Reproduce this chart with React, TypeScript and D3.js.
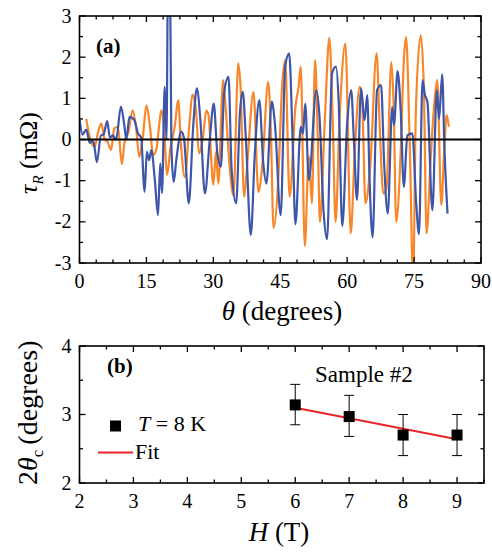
import React from 'react'
import * as d3 from 'd3'

// panel (a): [theta (deg), tau_R (mOhm)]
const blueSeries: [number, number][] = [
  [0, 0.5], [0.7, 0.12], [1.5, 0.24], [2.3, -0.08], [3.1, -0.04], [3.9, -0.55], [4.8, 0.1], [5.4, 0.12],
  [6.2, 0.45], [6.8, 0.05], [7.5, 0.1], [8.2, 0.0], [9.3, 0.8], [10.1, 0.3], [10.5, 0.0], [11.2, 0.55],
  [12.3, 0.47], [13.1, 0.15], [13.8, 0.05], [14.6, -1.27], [15.1, -0.3], [15.6, -0.5], [16.1, -0.26],
  [16.9, -1.0], [17.6, -1.84], [18.1, -0.58], [18.5, -1.3], [19.1, 1.28], [19.5, 0.0], [19.9, 5], [20.2, 5],
  [20.6, -0.18], [21.1, -1.03], [21.7, -0.5], [22.8, 0.19], [23.4, 0.05], [24.5, -1.55], [25.5, 0.35],
  [26.3, 1.24], [27.1, 0.47], [28.1, -1.31], [29.2, 0.0], [30.1, 0.87], [30.9, -0.34], [31.7, -0.66],
  [32.4, 1.12], [33.4, 1.52], [34.1, -0.74], [35.1, -1.55], [36.0, 0.71], [36.6, 1.16], [37.3, 0.0],
  [38.4, -2.32], [39.3, -0.34], [40.3, 0.96], [41.2, -0.58], [41.9, -1.07], [43.1, 0.92], [43.8, 0.39],
  [45.1, -1.84], [46.1, 1.77], [47.0, 2.09], [47.8, -0.1], [48.4, -2.06], [49.6, 0.31], [50.1, 0.15],
  [50.6, 0.87], [51.4, -0.99], [53.1, 1.2], [53.8, 0.55], [54.7, -1.72], [55.5, -2.42], [56.6, 1.6],
  [57.5, 1.77], [58.1, 0.9], [58.9, -2.1], [60.0, 0.39], [60.9, 1.2], [61.5, 0.0], [62.2, -1.47],
  [63.1, 1.24], [63.9, 0.47], [64.5, 1.08], [65.0, -0.9], [65.7, -2.38], [66.7, 1.2], [67.6, 1.32],
  [68.3, -0.6], [69.1, -1.8], [70.1, 0.79], [70.5, 0.35], [71.3, 1.66], [72.0, 0.7], [72.7, -1.15],
  [73.5, 0.1], [74.6, 0.15], [75.5, -1.6], [76.1, -2.3], [76.9, 1.44], [77.4, 1.1], [78.0, 0.9],
  [79.1, -1.72], [80.1, 1.2], [80.6, 0.5], [81.3, 1.58], [81.8, -0.2], [82.5, -1.8]
]

const orangeSeries: [number, number][] = [
  [1.5, 0.5], [2.4, 0.02], [3.4, -0.18], [4.1, 0.15], [4.9, 0.39], [5.6, 0.02], [6.3, -0.06], [7.1, -0.25],
  [7.8, 0.27], [8.6, 0.31], [9.5, -0.6], [10.1, -0.06], [11.0, 0.2], [11.9, 0.71], [12.7, 0.27],
  [13.4, -0.42], [14.2, 0.06], [15.0, 0.83], [15.8, 0.31], [16.5, -0.38], [17.2, -0.25], [18.4, 0.71],
  [19.0, 0.2], [19.6, -0.86], [20.4, -0.2], [21.4, 0.35], [22.1, 0.96], [22.8, -0.2], [23.6, -0.91],
  [24.7, 0.47], [25.3, 1.09], [26.1, 0.71], [26.8, -0.34], [27.7, 0.06], [28.4, 0.7], [28.9, 0.6],
  [30.0, -1.1], [30.6, -0.3], [31.1, -1.07], [32.2, 1.44], [32.8, 0.71], [33.6, -0.58], [34.5, -1.35],
  [35.6, 1.85], [36.1, 1.28], [36.9, -1.39], [37.6, -0.6], [39.0, 1.16], [40.1, -1.27], [41.0, -0.6],
  [42.3, 1.4], [42.9, 0.2], [43.5, -2.15], [44.5, -1.1], [45.4, 1.28], [46.1, 1.93], [47.1, -1.39],
  [48.4, 0.79], [49.1, 1.28], [49.6, 1.77], [50.5, -2.59], [51.4, -0.4], [52.1, -1.55], [52.8, 1.93],
  [53.4, 0.1], [53.9, -2.0], [55.0, 0.5], [56.0, 2.47], [56.8, 0.3], [57.4, -2.0], [58.3, 0.5],
  [59.6, 2.33], [60.8, -2.28], [61.7, -0.3], [62.8, 1.28], [63.3, 1.1], [64.1, -1.55], [65.2, -0.6],
  [66.6, 2.09], [67.3, 0.3], [68.1, -1.31], [68.8, -1.2], [69.9, 1.88], [70.4, 0.9], [71.0, -2.0],
  [72.0, -0.3], [72.7, 1.93], [73.2, 2.49], [74.0, 0.0], [74.8, -3.4], [75.4, 0.71], [76.5, 2.53],
  [77.2, 1.2], [77.8, -2.28], [78.7, -0.5], [79.6, 0.96], [80.2, 1.44], [81.1, -1.59], [81.7, -0.4],
  [82.3, 0.59], [82.8, 0.31]
]

// panel (b)
const fieldH = [6, 7, 8, 9]
const critAngle = [3.14, 2.97, 2.7, 2.7]
const errLow = [2.85, 2.68, 2.4, 2.4]
const errHigh = [3.44, 3.28, 3.0, 3.0]
const fitH = [6, 9]
const fitAngle = [3.1, 2.64]

const thetaTicks = [0, 15, 30, 45, 60, 75, 90]
const tauTicks = [-3, -2, -1, 0, 1, 2, 3]
const hTicks = [2, 3, 4, 5, 6, 7, 8, 9]
const angleTicks = [2, 3, 4]

const FONT = "'Liberation Serif', 'Times New Roman', serif"
const BLUE = '#3d56aa'
const ORANGE = '#f7872a'

type Sc = d3.ScaleLinear<number, number>

function Frame({ x, y, xMajor, xMinor, yMajor, yMinor }: { x: Sc; y: Sc; xMajor: number[]; xMinor: number[]; yMajor: number[]; yMinor: number[] }) {
  const [x0, x1] = x.range()
  const [y0, y1] = y.range() // y0 bottom, y1 top
  const big = 6
  const small = 3.5
  const xt = [...xMajor.map(v => [v, big]), ...xMinor.map(v => [v, small])]
  const yt = [...yMajor.map(v => [v, big]), ...yMinor.map(v => [v, small])]
  return (
    <g>
      {xt.map(([v, l], i) => (
        <g key={'x' + i} stroke="#000" strokeWidth={1.3}>
          <line x1={x(v)} x2={x(v)} y1={y0} y2={y0 - l} />
          <line x1={x(v)} x2={x(v)} y1={y1} y2={y1 + l} />
        </g>
      ))}
      {yt.map(([v, l], i) => (
        <g key={'y' + i} stroke="#000" strokeWidth={1.3}>
          <line x1={x0} x2={x0 + l} y1={y(v)} y2={y(v)} />
          <line x1={x1} x2={x1 - l} y1={y(v)} y2={y(v)} />
        </g>
      ))}
      <rect x={x0} y={y1} width={x1 - x0} height={y0 - y1} fill="none" stroke="#000" strokeWidth={1.6} />
      {xMajor.map(v => (
        <text key={'xl' + v} x={x(v)} y={y0 + 25} textAnchor="middle" fontSize={20}>{v}</text>
      ))}
      {yMajor.map(v => (
        <text key={'yl' + v} x={x0 - 8} y={y(v)} dy="0.33em" textAnchor="end" fontSize={20}>{v}</text>
      ))}
    </g>
  )
}

export default function App() {
  const xA = d3.scaleLinear().domain([0, 90]).range([79.5, 481])
  const yA = d3.scaleLinear().domain([-3, 3]).range([263, 16])
  const xB = d3.scaleLinear().domain([2, 9.5]).range([79.5, 484])
  const yB = d3.scaleLinear().domain([2, 4]).range([483, 346])

  const lineA = d3.line<[number, number]>().x(d => xA(d[0])).y(d => yA(d[1])).curve(d3.curveMonotoneX)
  const fitLine = d3.line<number>().x((_, i) => xB(fitH[i])).y(d => yB(d))

  const thetaMinor = d3.range(0, 90.01, 3.75).filter(v => v % 15 !== 0)
  const tauMinor = d3.range(-2.5, 3, 1)
  const hMinor = d3.range(2.5, 9.6, 1)
  const angleMinor = [2.5, 3.5]

  return (
    <svg width={492} height={554} style={{ position: 'absolute', left: 0, top: 0, background: '#fff' }} fontFamily={FONT}>
      <defs>
        <clipPath id="clipA">
          <rect x={79.5} y={16} width={401.5} height={247} />
        </clipPath>
      </defs>

      {/* panel (a) */}
      <g clipPath="url(#clipA)">
        <path d={lineA(orangeSeries) ?? ''} fill="none" stroke={ORANGE} strokeWidth={2.2} strokeLinejoin="round" />
        <path d={lineA(blueSeries) ?? ''} fill="none" stroke={BLUE} strokeWidth={2.2} strokeLinejoin="round" />
      </g>
      <line x1={xA(0)} x2={xA(90)} y1={yA(0)} y2={yA(0)} stroke="#000" strokeWidth={2} />
      <Frame x={xA} y={yA} xMajor={thetaTicks} xMinor={thetaMinor} yMajor={tauTicks} yMinor={tauMinor} />
      <text x={96} y={53} fontSize={21} fontWeight="bold">(a)</text>
      <text x={282} y={320} textAnchor="middle" fontSize={27}>
        <tspan fontStyle="italic">θ</tspan> (degrees)
      </text>
      <text transform="translate(37,153) rotate(-90)" textAnchor="middle" fontSize={26}>
        <tspan fontStyle="italic">τ</tspan>
        <tspan fontStyle="italic" fontSize={15} dy={6}>R</tspan>
        <tspan dy={-6}> (mΩ)</tspan>
      </text>

      {/* panel (b) */}
      <Frame x={xB} y={yB} xMajor={hTicks} xMinor={hMinor} yMajor={angleTicks} yMinor={angleMinor} />
      <path d={fitLine(fitAngle) ?? ''} fill="none" stroke="#e8262a" strokeWidth={2} />
      {fieldH.map((h, i) => (
        <g key={h} stroke="#000" strokeWidth={1}>
          <line x1={xB(h)} x2={xB(h)} y1={yB(errLow[i])} y2={yB(errHigh[i])} />
          <line x1={xB(h) - 5} x2={xB(h) + 5} y1={yB(errLow[i])} y2={yB(errLow[i])} />
          <line x1={xB(h) - 5} x2={xB(h) + 5} y1={yB(errHigh[i])} y2={yB(errHigh[i])} />
          <rect x={xB(h) - 5.5} y={yB(critAngle[i]) - 5.5} width={11} height={11} fill="#000" stroke="none" />
        </g>
      ))}
      <text x={107} y={373} fontSize={21} fontWeight="bold">(b)</text>
      <text x={315} y={382} fontSize={23}>Sample #2</text>
      <rect x={110} y={420.5} width={11} height={11} fill="#000" />
      <text x={138} y={431} fontSize={22}>
        <tspan fontStyle="italic">T</tspan> = 8 K
      </text>
      <line x1={98} x2={133} y1={452.5} y2={452.5} stroke="#e8262a" strokeWidth={2} />
      <text x={135} y={459} fontSize={22}>Fit</text>
      <text x={279} y={541} textAnchor="middle" fontSize={27}>
        <tspan fontStyle="italic">H</tspan> (T)
      </text>
      <text transform="translate(37,485) rotate(-90)" fontSize={28}>
        2<tspan fontStyle="italic">θ</tspan>
        <tspan fontSize={17} dy={6}>c</tspan>
        <tspan dy={-6} dx={5}>(degrees)</tspan>
      </text>
    </svg>
  )
}
